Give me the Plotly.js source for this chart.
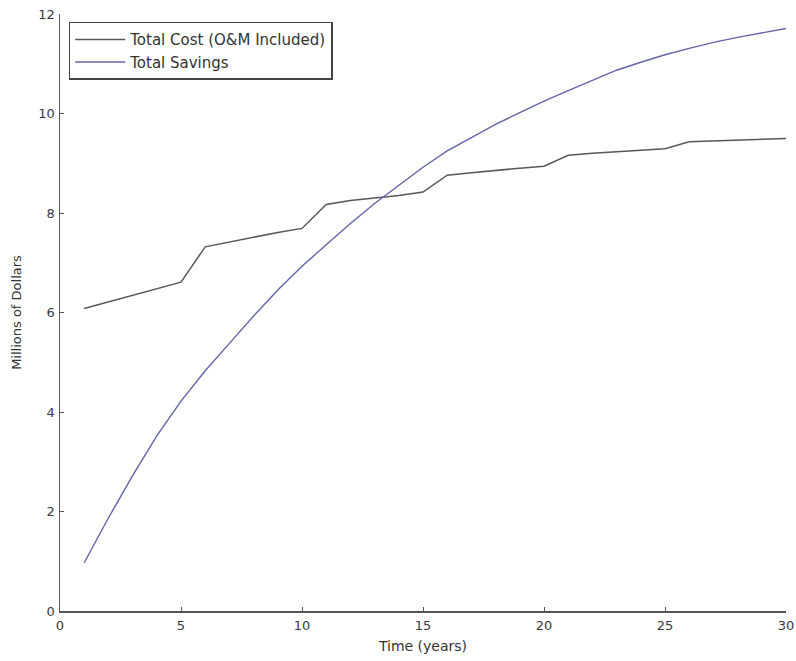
<!DOCTYPE html>
<html>
<head>
<meta charset="utf-8">
<script src="https://cdn.plot.ly/plotly-3.0.1.min.js"></script>
<style>html,body{margin:0;padding:0;background:#fff;}#chart{width:796px;height:661px;}</style>
</head>
<body>
<div id="chart"></div>
<script>
const years = [1,2,3,4,5,6,7,8,9,10,11,12,13,14,15,16,17,18,19,20,21,22,23,24,25,26,27,28,29,30];
const totalCost = [6.08,6.21,6.34,6.47,6.61,7.32,7.42,7.52,7.61,7.69,8.17,8.25,8.30,8.35,8.42,8.76,8.81,8.86,8.90,8.94,9.16,9.20,9.23,9.26,9.29,9.43,9.45,9.47,9.49,9.50];
const totalSavings = [0.97,1.87,2.72,3.52,4.22,4.83,5.38,5.93,6.45,6.93,7.36,7.79,8.19,8.56,8.92,9.25,9.52,9.78,10.02,10.25,10.46,10.66,10.87,11.03,11.18,11.31,11.43,11.53,11.62,11.71];
const seriesNames = ['Total Cost (O&M Included)', 'Total Savings'];
const xTitle = 'Time (years)';
const yTitle = 'Millions of Dollars';

const FONT = 'DejaVu Sans, Verdana, sans-serif';

const traces = [
  {x: years, y: totalCost, type: 'scatter', mode: 'lines', name: seriesNames[0],
   line: {color: '#585858', width: 1.5}},
  {x: years, y: totalSavings, type: 'scatter', mode: 'lines', name: seriesNames[1],
   line: {color: '#6464aa', width: 1.4}}
];

const axisCommon = {
  showline: true, linecolor: '#555', linewidth: 1.5,
  ticks: 'inside', ticklen: 4, tickcolor: '#555', tickwidth: 1,
  showgrid: false, zeroline: false, mirror: false,
  tickfont: {family: FONT, size: 13, color: '#3a3a3a'}
};

const layout = {
  width: 796, height: 661,
  margin: {l: 60, r: 10, t: 14, b: 50},
  paper_bgcolor: '#fff', plot_bgcolor: '#fff',
  font: {family: FONT, color: '#333'},
  xaxis: Object.assign({}, axisCommon, {
    range: [0, 30], tickmode: 'linear', tick0: 0, dtick: 5,
    ticklabelstandoff: 2,
    title: {text: xTitle, font: {family: FONT, size: 14, color: '#333'}, standoff: 9}
  }),
  yaxis: Object.assign({}, axisCommon, {
    range: [0, 12], tickmode: 'linear', tick0: 0, dtick: 2,
    ticklabelstandoff: 1,
    title: {text: yTitle, font: {family: FONT, size: 13, color: '#333'}, standoff: 14}
  }),
  showlegend: true,
  legend: {
    x: 0.012, y: 0.987, xanchor: 'left', yanchor: 'top',
    bgcolor: '#fff', bordercolor: '#444', borderwidth: 1.5,
    font: {family: FONT, size: 15, color: '#333'}, tracegroupgap: 0, itemwidth: 50
  }
};

Plotly.newPlot('chart', traces, layout, {displayModeBar: false, staticPlot: true});
</script>
</body>
</html>
